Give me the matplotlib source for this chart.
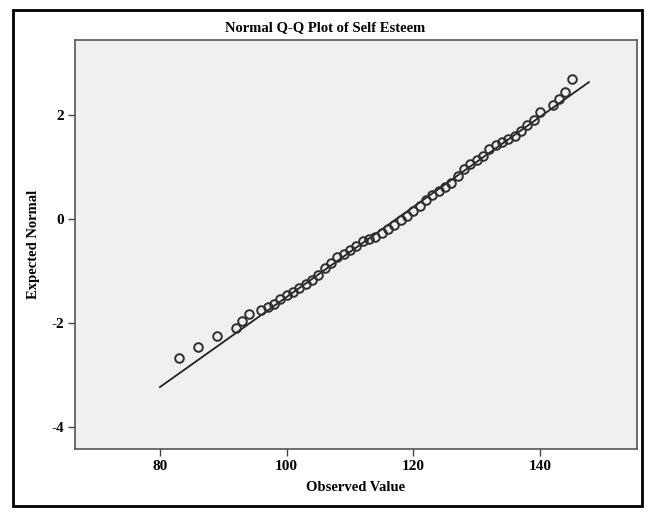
from matplotlib import pyplot as plt
from matplotlib.patches import Rectangle

# observed self esteem scores and their expected normal values
observed = [83, 86, 89, 92, 93, 94, 96, 97, 98, 99, 100, 101, 102, 103, 104, 105,
            106, 107, 108, 109, 110, 111, 112, 113, 114, 115, 116, 117, 118, 119,
            120, 121, 122, 123, 124, 125, 126, 127, 128, 129, 130, 131, 132, 133,
            134, 135, 136, 137, 138, 139, 140, 142, 143, 144, 145]
expected = [-2.68, -2.45, -2.24, -2.10, -1.96, -1.83, -1.75, -1.70, -1.63, -1.54,
            -1.46, -1.40, -1.33, -1.25, -1.18, -1.08, -0.95, -0.85, -0.73, -0.67,
            -0.60, -0.52, -0.43, -0.38, -0.34, -0.27, -0.19, -0.11, -0.02, 0.06,
            0.15, 0.25, 0.36, 0.47, 0.54, 0.62, 0.70, 0.82, 0.97, 1.06, 1.13, 1.22,
            1.34, 1.42, 1.48, 1.54, 1.60, 1.69, 1.81, 1.90, 2.06, 2.19, 2.31, 2.44,
            2.69]

# reference line end points
line_x = [80, 147.7]
line_y = [-3.23, 2.63]

x_ticks = [80, 100, 120, 140]
y_ticks = [-4, -2, 0, 2]

plt.rcParams['font.family'] = ['Liberation Serif', 'DejaVu Serif']
plt.rcParams['font.weight'] = 'bold'
plt.rcParams['axes.unicode_minus'] = False

fig = plt.figure(figsize=(6.5, 5.17), dpi=100)
ax = fig.add_axes([0.1154, 0.1315, 0.8646, 0.7911])
ax.set_facecolor('#f0f0f0')

ax.plot(line_x, line_y, color='#222222', linewidth=1.3, zorder=2)
ax.plot(observed, expected, linestyle='none', marker='o', markersize=6.2,
        markerfacecolor='none', markeredgecolor='#2e2e2e', markeredgewidth=1.4,
        zorder=3)

ax.set_xlim(66.6, 155.3)
ax.set_ylim(-4.42, 3.44)
ax.set_xticks(x_ticks)
ax.set_yticks(y_ticks)
ax.tick_params(direction='out', length=5, width=1, color='#444444',
               labelsize=11, pad=3)
for s in ax.spines.values():
    s.set_color('#555555')
    s.set_linewidth(1.2)

ax.set_xlabel('Observed Value', fontsize=10.5, fontweight='bold', labelpad=6)
ax.set_ylabel('Expected Normal', fontsize=10.5, fontweight='bold', labelpad=8)
fig.text(0.5, 0.946, 'Normal Q-Q Plot of Self Esteem', ha='center', va='center',
         fontsize=10.5, fontweight='bold')

# black frame round the whole chart
fig.patches.append(Rectangle((0.02, 0.021), 0.968, 0.959, transform=fig.transFigure,
                             fill=False, edgecolor='black', linewidth=2))

fig.savefig('out.png', dpi=100)
